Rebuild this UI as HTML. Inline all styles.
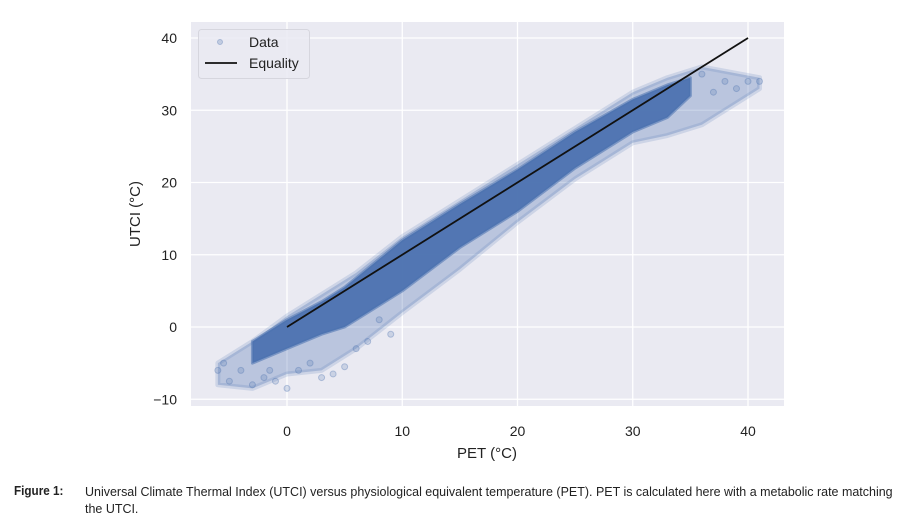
<!DOCTYPE html>
<html><head><meta charset="utf-8">
<style>
body{margin:0;background:#fff;width:913px;height:525px;overflow:hidden;font-family:"Liberation Sans",sans-serif}
svg{position:absolute;left:0;top:0}
.cap{position:absolute;font-size:13px;color:#222;transform:scaleX(0.96);transform-origin:left top;white-space:nowrap}
</style></head>
<body>
<svg id="chart" width="913" height="470"></svg>
<div class="cap" style="left:14px;top:483px;font-weight:bold;transform:scaleX(0.9)">Figure 1:</div>
<div class="cap" style="left:85px;top:483px;line-height:17px">Universal Climate Thermal Index (UTCI) versus physiological equivalent temperature (PET). PET is calculated here with a metabolic rate matching<br>the UTCI.</div>
<script>
// Data
const xTicks=[0,10,20,30,40];
const yTicks=[-10,0,10,20,30,40];
const outerX=[-6,-3,0,3,6,10,15,20,25,30,33,36,41];
const outerHi=[-5,-2,1.5,4.5,7.5,12.5,17.5,22.5,27.5,32.5,34.5,36,34.5];
const outerLo=[-8,-8.5,-6.5,-6,-3,2,8,14.5,20.5,25.5,26.5,28,33];
const coreX=[-3,0,3,5,10,15,20,25,30,33,35];
const coreHi=[-2,1,3.5,5.5,12,17,21.8,27,31.5,33.5,34.5];
const coreLo=[-5,-3,-1,0,5,11,16,22,27,29,32];
const outX=[-6,-5,-4,-3,-2,-1,0,1,2,3,4,5,6,7,8,9,38,39,40,41,36,37,-5.5,-1.5];
const outY=[-6,-7.5,-6,-8,-7,-7.5,-8.5,-6,-5,-7,-6.5,-5.5,-3,-2,1,-1,34,33,34,34,35,32.5,-5,-6];
const eqX=[0,40], eqY=[0,40];

const svg=document.getElementById('chart');
const NS='http://www.w3.org/2000/svg';
const L=191,R=784,T=22,B=406;
const sx=v=>287+v*11.525;
const sy=v=>327-v*7.225;
function mk(t,a){const e=document.createElementNS(NS,t);for(const k in a)e.setAttribute(k,a[k]);svg.appendChild(e);return e;}
const bg=mk('rect',{x:L,y:T,width:R-L,height:B-T,fill:'#eaeaf2'});


xTicks.forEach(v=>{const g=mk('line',{x1:sx(v),x2:sx(v),y1:T,y2:B,stroke:'#fff','stroke-width':1.3});


const t=mk('text',{x:sx(v),y:436,'text-anchor':'middle','font-size':14,fill:'#222'});t.textContent=v;

});
yTicks.forEach(v=>{const g=mk('line',{x1:L,x2:R,y1:sy(v),y2:sy(v),stroke:'#fff','stroke-width':1.3});


const t=mk('text',{x:177,y:sy(v)+5,'text-anchor':'end','font-size':14,fill:'#222'});t.textContent=v<0?'\u2212'+(-v):v;

});
function band(xs,hi,lo,fill,op,sw,name){let p=xs.map((x,i)=>sx(x)+','+sy(hi[i]));for(let i=xs.length-1;i>=0;i--)p.push(sx(xs[i])+','+sy(lo[i]));
const e=mk('polygon',{points:p.join(' '),fill:fill,'fill-opacity':op,stroke:fill,'stroke-opacity':op*0.6,'stroke-width':sw,'stroke-linejoin':'round'});

}
band(outerX,outerHi,outerLo,'#4c72b0',0.3,5,'data-scatter-sparse');
band(coreX,coreHi,coreLo,'#4c72b0',0.95,3,'data-scatter-dense');
outX.forEach((x,i)=>{const c=mk('circle',{cx:sx(x),cy:sy(outY[i]),r:3,fill:'#4c72b0','fill-opacity':0.2,stroke:'#4c72b0','stroke-opacity':0.35});

});
const eq=mk('line',{x1:sx(eqX[0]),y1:sy(eqY[0]),x2:sx(eqX[1]),y2:sy(eqY[1]),stroke:'#111','stroke-width':1.8});


const xl=mk('text',{x:487,y:458,'text-anchor':'middle','font-size':15,fill:'#222'});xl.textContent='PET (°C)';


const yl=mk('text',{x:0,y:0,transform:'translate(140,214) rotate(-90)','text-anchor':'middle','font-size':15,fill:'#222'});yl.textContent='UTCI (°C)';


const lg=mk('rect',{x:198.5,y:29.5,width:111,height:49,rx:3,fill:'#eaeaf2','fill-opacity':0.85,stroke:'#d6d6de'});


const ld=mk('circle',{cx:220,cy:42,r:2.5,fill:'#4c72b0','fill-opacity':0.25,stroke:'#4c72b0','stroke-opacity':0.35});


const t1=mk('text',{x:249,y:47,'font-size':14,fill:'#222'});t1.textContent='Data';


const ll=mk('line',{x1:205,x2:237,y1:63,y2:63,stroke:'#111','stroke-width':1.8});


const t2=mk('text',{x:249,y:68,'font-size':14,fill:'#222'});t2.textContent='Equality';


</script>
</body></html>
